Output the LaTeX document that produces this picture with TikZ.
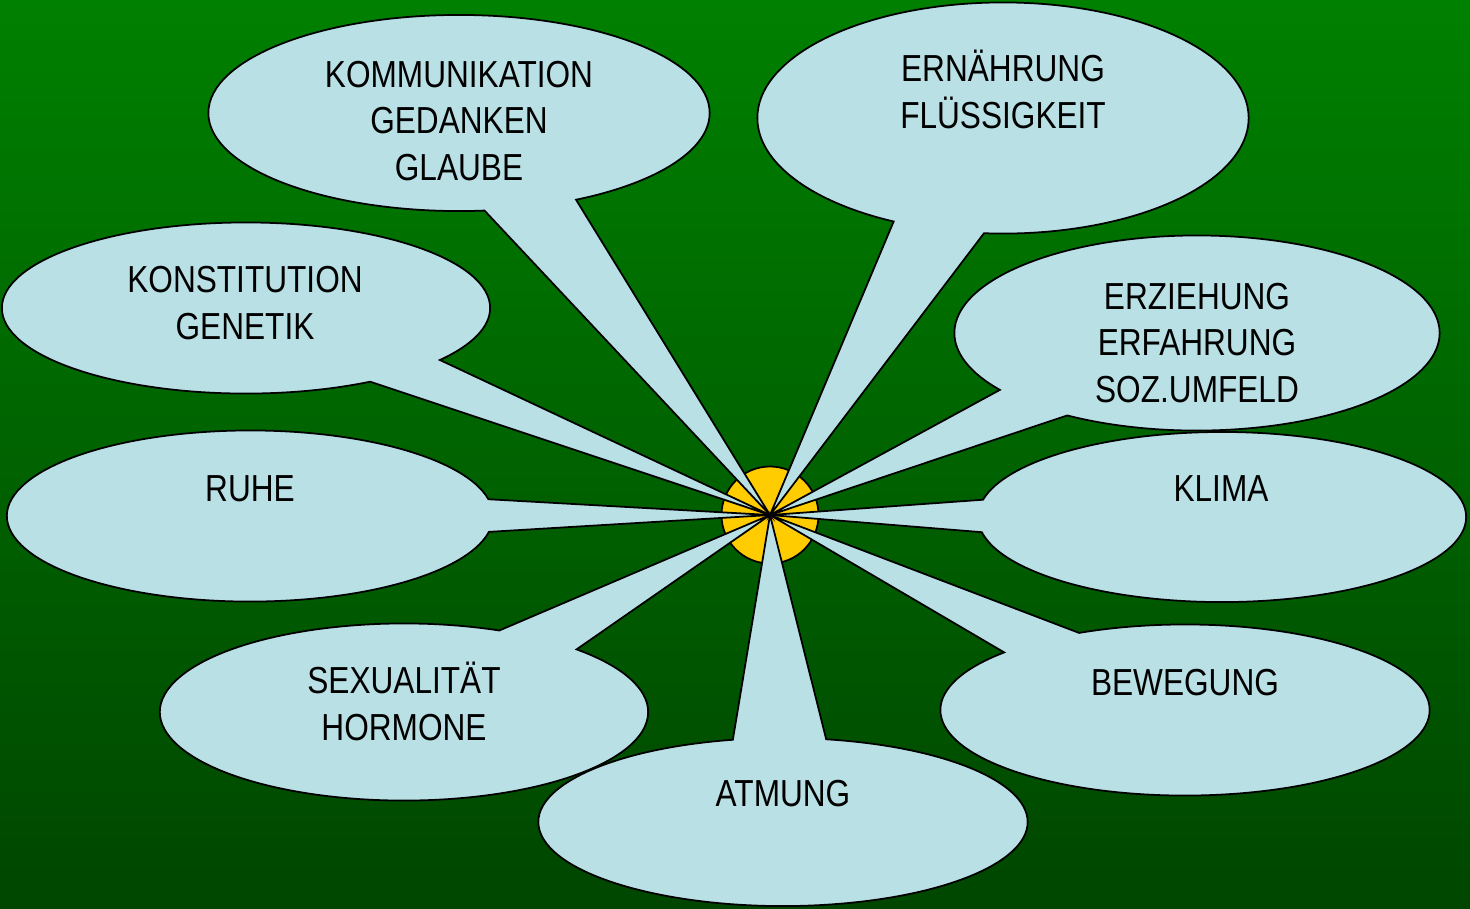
\documentclass[tikz,border=0pt]{standalone}
\usepackage{fontspec}
\setmainfont{Liberation Sans}[FakeStretch=0.84]
\usetikzlibrary{shapes.callouts}

\definecolor{bgtop}{RGB}{0,128,0}
\definecolor{bgbot}{RGB}{0,70,0}
\definecolor{bubblefill}{RGB}{185,224,228}
\definecolor{sun}{RGB}{255,204,0}

\begin{document}
\begin{tikzpicture}[x=0.01cm, y=-0.01cm,
    bubble/.style={ellipse callout, draw=black, fill=bubblefill, line width=0.5pt,
      inner sep=0pt, callout pointer arc=22, callout absolute pointer={(hub.center)}},
    lbl/.style={font=\fontsize{10.7}{13.1}\selectfont, align=center, anchor=base}]

        % Background
        \useasboundingbox (0,0) rectangle (1470,908);
        \shade[top color=bgtop, bottom color=bgbot] (0,0) rectangle (1470,908);

        % Center
        \node[circle, draw, fill=sun, line width=0.5pt, minimum size=0.97cm, inner sep=0pt] (hub) at (770,515) {};

        % Upper bubbles (text anchored on its last line)
        \node[bubble, minimum width=5.01cm, minimum height=1.96cm] (komm) at (459,113) {};
        \node[lbl] (kommtxt) at (459,180) {KOMMUNIKATION\\GEDANKEN\\GLAUBE};

        \node[bubble, minimum width=4.91cm, minimum height=2.31cm] (ern) at (1003,118) {};
        \node[lbl] (erntxt) at (1003,128) {ERNÄHRUNG\\FLÜSSIGKEIT};

        \node[bubble, minimum width=4.88cm, minimum height=1.71cm] (kons) at (246,308) {};
        \node[lbl] (konstxt) at (245,339) {KONSTITUTION\\GENETIK};

        \node[bubble, minimum width=4.85cm, minimum height=1.95cm] (erz) at (1197,333) {};
        \node[lbl] (erztxt) at (1197,402) {ERZIEHUNG\\ERFAHRUNG\\SOZ.UMFELD};

        % Middle bubbles
        \node[bubble, minimum width=4.86cm, minimum height=1.71cm] (ruhe) at (250,516) {};
        \node[lbl] (ruhetxt) at (250,501) {RUHE};

        \node[bubble, minimum width=4.88cm, minimum height=1.70cm] (klima) at (1222,517) {};
        \node[lbl] (klimatxt) at (1221,501) {KLIMA};

        % Lower bubbles
        \node[bubble, minimum width=4.88cm, minimum height=1.77cm] (sex) at (404,712) {};
        \node[lbl] (sextxt) at (404,740) {SEXUALITÄT\\HORMONE};

        \node[bubble, minimum width=4.89cm, minimum height=1.71cm] (bew) at (1185,710) {};
        \node[lbl] (bewtxt) at (1185,695) {BEWEGUNG};

        \node[bubble, minimum width=4.89cm, minimum height=1.68cm] (atm) at (783,822) {};
        \node[lbl] (atmtxt) at (783,806) {ATMUNG};

\end{tikzpicture}
\end{document}
